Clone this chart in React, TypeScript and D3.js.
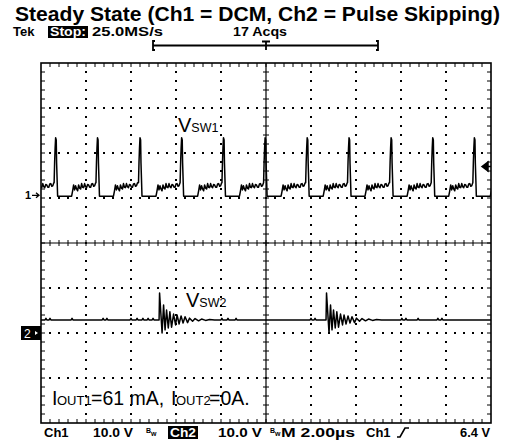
import React from 'react';
import * as d3 from 'd3';

const W = 519;
const H = 441;

const title = 'Steady State (Ch1 = DCM, Ch2 = Pulse Skipping)';
const headerLabels = ['Tek', 'Stop:', '25.0MS/s', '17 Acqs'];
const footerLabels = ['Ch1', '10.0 V', 'Ch2', '10.0 V', 'M 2.00µs', 'Ch1', '6.4 V'];

// scope settings
const timeDomain = [-10, 10]; // µs, 2.00 µs/div
const voltsPerDiv = [10, 10];
const chPosDiv = [1.06, -2]; // ground marker, divisions from centre
const trigLevel = 6.4; // V on Ch1

// Ch1 : DCM switch node, one pulse every ~1.86 µs
const spikeTimes = [-11.21, -9.35, -7.49, -5.6, -3.75, -1.89, -0.04, 1.83, 3.69, 5.56, 7.41, 9.26];
const swShapeT = [-0.067, -0.044, -0.022, 0, 0.027, 0.044, 0.067, 0.089, 0.711, 0.756, 0.8, 0.844, 0.889, 0.933, 0.978, 1.022, 1.067, 1.111, 1.156, 1.2, 1.244, 1.289, 1.333, 1.378, 1.422, 1.467, 1.511, 1.556, 1.6, 1.644, 1.689, 1.733, 1.78];
const swShapeV = [2.8, 7.4, 10.5, 12.8, 12.3, 7.2, 3.4, -0.2, -0.2, 1.0, 2.3, 1.2, 2.1, 1.4, 1.0, 2.3, 1.6, 1.4, 2.6, 1.8, 1.7, 2.6, 1.9, 1.7, 2.4, 2.3, 1.8, 1.8, 2.5, 2.6, 2.0, 2.1, 2.8];

// Ch2 : pulse skipping, idle at Vout with occasional bursts
const ch2Idle = 2.9;
const burstTimes = [-4.73, 2.69];
const burstShapeT = [-0.022, 0, 0.111, 0.178, 0.244, 0.311, 0.387, 0.458, 0.533, 0.622, 0.711, 0.778, 0.867, 0.956, 1.044, 1.133, 1.244, 1.333, 1.467, 1.578, 1.733, 1.867, 2.044, 2.222, 2.444];
const burstShapeV = [2.9, 8.9, 0, 6.2, 0.7, 5.1, 1.1, 4.7, 1.3, 4.2, 1.8, 4.0, 2.0, 3.8, 2.2, 3.6, 2.3, 3.3, 2.6, 3.2, 2.7, 3.1, 2.8, 3.0, 2.9];
const blipTimes = [-9.78, -9.6, -8.62, -7.24, -7.07, -6.0, -5.73, -5.47, -5.24, -5.02, -1.96, -1.69, -1.33, 2.0, 2.18, 6.04, 6.22, 6.76, 7.64, 7.82];

const gL = 41, gR = 491, gT = 63, gB = 423;

export default function App() {
  const x = d3.scaleLinear().domain(timeDomain).range([gL, gR]);
  const yDiv = d3.scaleLinear().domain([-4, 4]).range([gB, gT]);
  const y1 = (v: number) => yDiv(chPosDiv[0] + v / voltsPerDiv[0]);
  const y2 = (v: number) => yDiv(chPosDiv[1] + v / voltsPerDiv[1]);
  const divW = (gR - gL) / 10;
  const minor = divW / 5;

  const ch1: [number, number][] = [];
  spikeTimes.forEach(s => swShapeT.forEach((t, i) => ch1.push([s + t, swShapeV[i]])));
  ch1.sort((a, b) => a[0] - b[0]);

  const ch2: [number, number][] = [[timeDomain[0], ch2Idle], [timeDomain[1], ch2Idle]];
  blipTimes.forEach(t => {
    ch2.push([t - 0.04, ch2Idle], [t, ch2Idle + 0.35], [t + 0.04, ch2Idle]);
  });
  burstTimes.forEach(b => burstShapeT.forEach((t, i) => ch2.push([b + t, burstShapeV[i]])));
  ch2.sort((a, b) => a[0] - b[0]);

  const line1 = d3.line<[number, number]>().x(d => x(d[0])).y(d => y1(d[1]));
  const line2 = d3.line<[number, number]>().x(d => x(d[0])).y(d => y2(d[1]));

  // graticule pieces
  const vDiv = d3.range(1, 10).filter(k => k !== 5).map(k => gL + k * divW);
  const hDiv = d3.range(1, 8).filter(k => k !== 4).map(k => gT + k * divW);
  const xsMinor = d3.range(1, 50).map(k => gL + k * minor);
  const ysMinor = d3.range(1, 40).map(k => gT + k * minor);
  const cx = (gL + gR) / 2, cy = (gT + gB) / 2;

  const dots: JSX.Element[] = [];
  hDiv.forEach(yy => xsMinor.forEach((xx, i) => dots.push(<rect key={`h${yy}-${i}`} x={xx - 1} y={yy - 1} width={2} height={2} />)));
  vDiv.forEach(xx => ysMinor.forEach((yy, i) => dots.push(<rect key={`v${xx}-${i}`} x={xx - 1} y={yy - 1} width={2} height={2} />)));

  let ticks = '';
  xsMinor.forEach(xx => {
    ticks += `M${xx},${gT}v4M${xx},${gB}v-4M${xx},${cy - 3}v6`;
  });
  ysMinor.forEach(yy => {
    ticks += `M${gL},${yy}h4M${gR},${yy}h-4M${cx - 3},${yy}h6`;
  });

  const tekFont = { fontFamily: 'Liberation Sans, Arial, sans-serif', fontWeight: 700 } as const;
  const annFont = { fontFamily: 'Liberation Sans, Arial, sans-serif' } as const;
  const fit = (w: number) => ({ textLength: w, lengthAdjust: 'spacingAndGlyphs' as const });
  const trigY = y1(trigLevel);
  const gnd1 = y1(0), gnd2 = y2(0);

  return (
    <svg width={W} height={H} style={{ position: 'absolute', left: 0, top: 0, background: '#fff' }}>
      <defs>
        <clipPath id="plot"><rect x={gL} y={gT} width={gR - gL} height={gB - gT} /></clipPath>
      </defs>
      <text x={15} y={21} fontSize={21} {...tekFont} {...fit(485)}>{title}</text>

      {/* header */}
      <text x={13} y={36} fontSize={13} {...tekFont}>{headerLabels[0]}</text>
      <rect x={48} y={26} width={40} height={12} fill="#000" />
      <text x={50} y={36} fontSize={13} fill="#fff" {...tekFont} {...fit(36)}>{headerLabels[1]}</text>
      <text x={92} y={36} fontSize={13} {...tekFont} {...fit(71)}>{headerLabels[2]}</text>
      <text x={233} y={36} fontSize={13} {...tekFont} {...fit(54)}>{headerLabels[3]}</text>
      <path d={`M155,41h-2v9h2M153,45.5H378M376,41h2v9h-2M262,41.5h8M266,41.5v8.5`} fill="none" stroke="#000" strokeWidth={1.8} />

      {/* graticule */}
      <g fill="#000">{dots}</g>
      <path d={ticks} stroke="#000" strokeWidth={1} fill="none" />
      <path d={`M${gL},${cy}H${gR}M${cx},${gT}V${gB}`} stroke="#000" strokeWidth={1.2} />
      <rect x={gL} y={gT} width={gR - gL} height={gB - gT} fill="none" stroke="#000" strokeWidth={1.6} />

      {/* traces */}
      <g clipPath="url(#plot)" fill="none" stroke="#000" strokeWidth={1.5} strokeLinejoin="round">
        <path d={line1(ch1) ?? ''} />
        <path d={line2(ch2) ?? ''} />
      </g>

      {/* channel markers */}
      <text x={25} y={gnd1 + 4} fontSize={11} {...tekFont}>1</text>
      <path d={`M32,${gnd1}h7M36,${gnd1 - 2.5}l3,2.5l-3,2.5`} stroke="#000" strokeWidth={1.3} fill="none" />
      <rect x={21} y={gnd2 - 7} width={20} height={14} fill="#000" />
      <text x={24} y={gnd2 + 4.5} fontSize={12} fill="#fff" {...annFont}>2</text>
      <path d={`M35,${gnd2 - 2}l3,2l-3,2z`} fill="#fff" />
      <path d={`M482,${trigY}l6,-4.5v9z M487,${trigY}h4`} fill="#000" stroke="#000" strokeWidth={1.5} />

      {/* annotations */}
      <text x={178} y={132} fontSize={20} {...annFont}>V<tspan fontSize={12.5}>SW1</tspan></text>
      <text x={186} y={307} fontSize={20} {...annFont}>V<tspan fontSize={12.5}>SW2</tspan></text>
      <text y={405} fontSize={19.5} {...annFont}>
        <tspan x={52}>I</tspan>
        <tspan x={57} fontSize={13}>OUT1</tspan>
        <tspan x={91}>=61 mA,</tspan>
        <tspan x={171}>I</tspan>
        <tspan x={176} fontSize={13}>OUT2</tspan>
        <tspan x={209}>=0A.</tspan>
      </text>

      {/* footer */}
      <text x={44} y={437} fontSize={13} {...tekFont}>{footerLabels[0]}</text>
      <text x={93} y={437} fontSize={13} {...tekFont} {...fit(40)}>{footerLabels[1]}</text>
      <text x={146} y={433} fontSize={7} {...tekFont}>B<tspan dy={3}>w</tspan></text>
      <rect x={168} y={426} width={30} height={13} fill="#000" />
      <text x={170} y={437} fontSize={13} fill="#fff" {...tekFont} {...fit(26)}>{footerLabels[2]}</text>
      <text x={218} y={437} fontSize={13} {...tekFont} {...fit(44)}>{footerLabels[3]}</text>
      <text x={270} y={433} fontSize={7} {...tekFont}>B<tspan dy={3}>w</tspan></text>
      <text x={281} y={437} fontSize={13} {...tekFont} {...fit(74)}>{footerLabels[4]}</text>
      <text x={366} y={437} fontSize={13} {...tekFont}>{footerLabels[5]}</text>
      <path d="M397,437h3l5,-9h4" stroke="#000" strokeWidth={1.6} fill="none" />
      <text x={460} y={437} fontSize={13} {...tekFont} {...fit(30)}>{footerLabels[6]}</text>
    </svg>
  );
}
